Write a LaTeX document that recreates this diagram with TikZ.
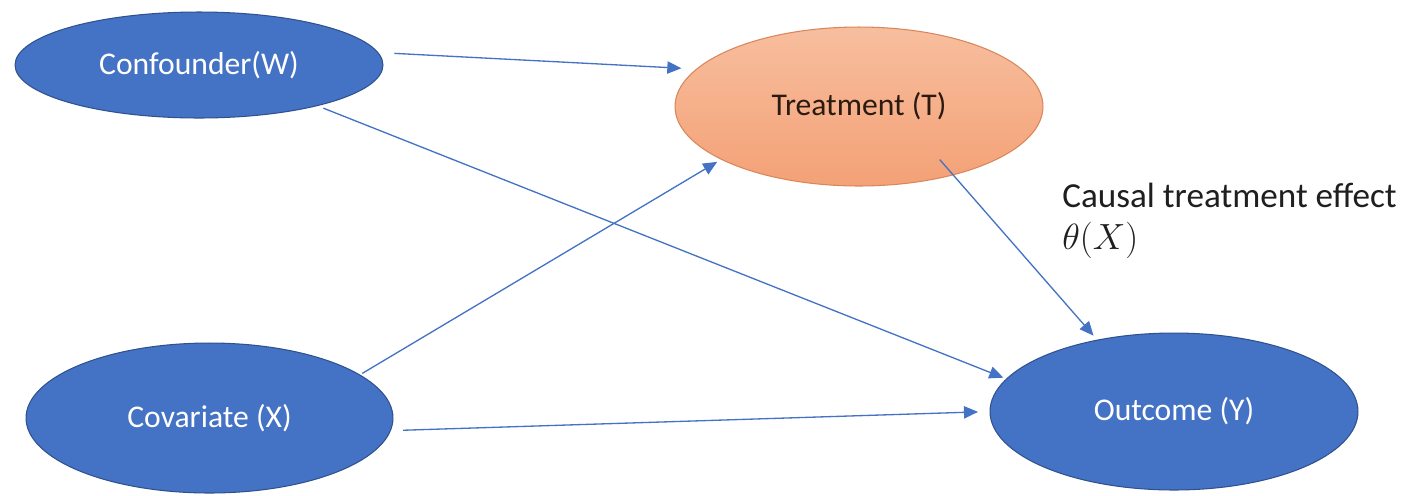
\documentclass[tikz,border=0pt]{standalone}
\usepackage{fontspec}
\setmainfont{Carlito}
\usetikzlibrary{shapes.geometric,arrows.meta}
\definecolor{nodeblue}{HTML}{4472C4}
\definecolor{edgeblue}{HTML}{2F528F}
\definecolor{arrowblue}{HTML}{4472C4}
\definecolor{orangetop}{HTML}{F7BE9E}
\definecolor{orangebot}{HTML}{F4A176}
\definecolor{orangeedge}{HTML}{D9875A}
\definecolor{darktext}{HTML}{2A1A10}
\begin{document}
\begin{tikzpicture}[x=0.02cm,y=-0.02cm,
  bluenode/.style={ellipse, draw=edgeblue, line width=0.6pt, fill=nodeblue, text=white,
    font=\fontsize{18}{22}\selectfont, inner sep=0pt, outer sep=0pt},
  orangenode/.style={ellipse, draw=orangeedge, line width=0.6pt, top color=orangetop, bottom color=orangebot,
    text=darktext, font=\fontsize{18}{22}\selectfont, inner sep=0pt, outer sep=0pt},
  arr/.style={draw=arrowblue, line width=0.75pt, -{Triangle[length=8pt,width=7pt]}},
  lbl/.style={anchor=north west, align=left, inner sep=0pt, text=black!88,
    font=\fontsize{20}{23.5}\selectfont}]
\fill[white] (0,0) rectangle (1406,495);
\useasboundingbox (0,0) rectangle (1406,495);

\node[bluenode, minimum width=7.36cm, minimum height=2.12cm] (W) at (199,65) {Confounder(W)};
\node[orangenode, minimum width=7.36cm, minimum height=3.18cm] (T) at (859,106.5) {Treatment (T)};
\node[bluenode, minimum width=7.34cm, minimum height=3.0cm] (X) at (209.5,418) {Covariate (X)};
\node[bluenode, minimum width=7.36cm, minimum height=3.14cm] (Y) at (1174,411.5) {Outcome (Y)};
\node[lbl] (effect) at (1062,183) {Causal treatment effect\\$\theta(X)$};

\draw[arr, shorten <=0.334cm, shorten >=0.308cm] (W.4.6) -- (T.167.4);
\draw[arr, shorten <=0.136cm, shorten >=0.07cm] (W.-19.1) -- (Y.169.5);
\draw[arr, shorten <=0.06cm, shorten >=0.1cm] (X.16) -- (T.201.8);
\draw[arr, shorten <=0.256cm, shorten >=0.24cm] (X.-4.1) -- (Y.180.7);
\draw[arr, shorten <=-0.404cm, shorten >=0.12cm] (T.-36.9) -- (Y.137.4);
\end{tikzpicture}
\end{document}
